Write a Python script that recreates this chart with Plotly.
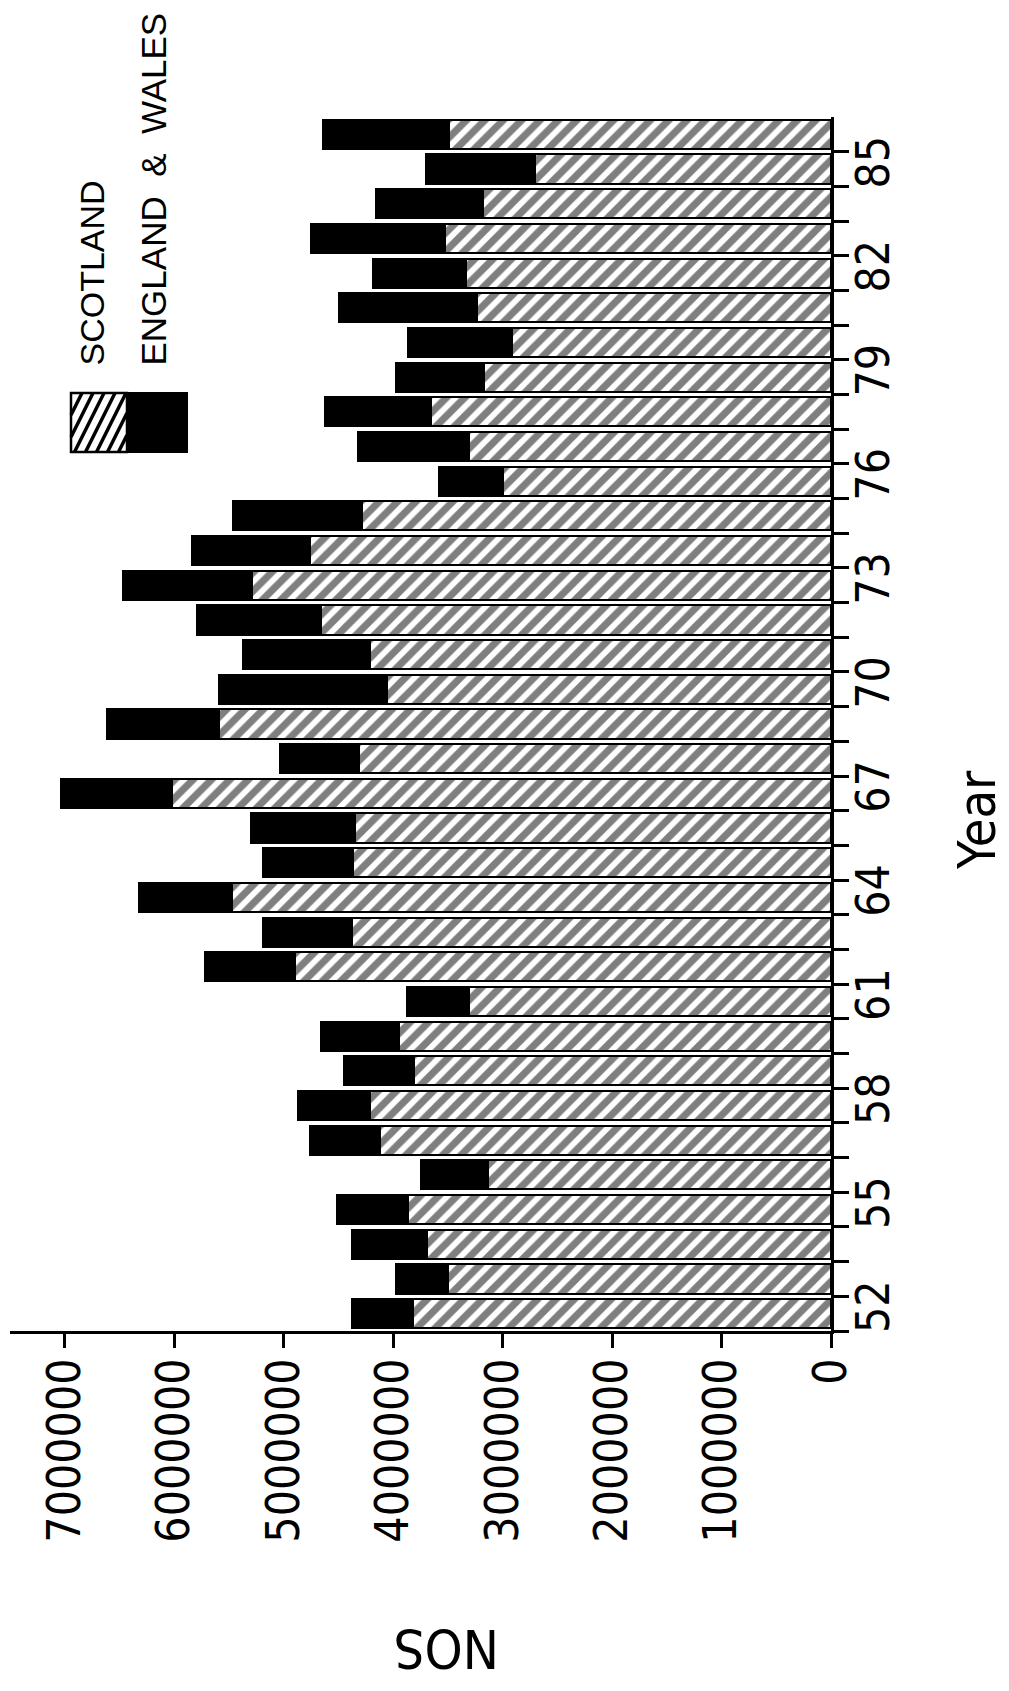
import plotly.graph_objects as go

# ---------------- data ----------------
years = list(range(52, 87))
scotland = [3820000, 3500000, 3690000, 3860000, 3130000, 4120000, 4210000, 3810000,
            3950000, 3310000, 4900000, 4380000, 5470000, 4370000, 4350000, 6020000,
            4310000, 5590000, 4060000, 4210000, 4660000, 5290000, 4760000, 4280000,
            3000000, 3310000, 3650000, 3170000, 2910000, 3230000, 3330000, 3530000,
            3180000, 2700000, 3490000]
england_wales = [560000, 470000, 690000, 650000, 620000, 640000, 660000, 640000,
                 710000, 560000, 820000, 810000, 850000, 820000, 950000, 1010000,
                 720000, 1020000, 1530000, 1160000, 1130000, 1180000, 1080000, 1180000,
                 580000, 1010000, 970000, 800000, 950000, 1260000, 850000, 1220000,
                 980000, 1000000, 1150000]
value_ticks = [0, 1000000, 2000000, 3000000, 4000000, 5000000, 6000000, 7000000]
year_ticks = [52, 55, 58, 61, 64, 67, 70, 73, 76, 79, 82, 85]
series_names = ["SCOTLAND", "ENGLAND & WALES"]

# ---------------- layout geometry (page pixels; page body has an 8px margin) ----------------
OFF = 8
W, H = 1009 - OFF, 1691 - OFF
PL, PR, PT, PB = 10 - OFF, 831 - OFF, 117 - OFF, 1331 - OFF

CONDENSED = "DejaVu Sans Condensed, Liberation Sans Narrow, DejaVu Sans, sans-serif"
REGULAR = "Liberation Sans, Arial, sans-serif"


def px(x):
    """page x -> paper x"""
    return (x - OFF - PL) / (PR - PL)


def py(y):
    """page y -> paper y"""
    return (PB - (y - OFF)) / (PB - PT)


fig = go.Figure()
fig.add_trace(go.Bar(
    y=years, x=scotland, orientation="h", name=series_names[0],
    marker=dict(color="white",
                pattern=dict(shape="/", fgcolor="black", bgcolor="white",
                             size=13, solidity=0.55),
                line=dict(color="black", width=2)),
))
fig.add_trace(go.Bar(
    y=years, x=england_wales, orientation="h", name=series_names[1],
    marker=dict(color="black", line=dict(color="black", width=2)),
))

boundaries = [y - 0.5 for y in years]

fig.update_layout(
    width=W, height=H,
    margin=dict(l=PL, r=W - PR, t=PT, b=H - PB, pad=0),
    paper_bgcolor="white", plot_bgcolor="white",
    barmode="stack", bargap=0.16, showlegend=False,
    xaxis=dict(
        range=[7.5e6, 0], showgrid=False, zeroline=False,
        showline=True, linecolor="black", linewidth=3,
        tickmode="array", tickvals=value_ticks,
        ticktext=[str(v) for v in value_ticks],
        ticks="outside", ticklen=14, tickwidth=2.5, tickcolor="black",
        ticklabelstandoff=-8,
        tickangle=-90, tickfont=dict(family=CONDENSED, size=46, color="black"),
    ),
    yaxis=dict(
        range=[years[0] - 0.5, years[-1] + 0.5], side="right",
        showgrid=False, zeroline=False,
        showline=True, linecolor="black", linewidth=3,
        tickmode="array", tickvals=year_ticks,
        ticktext=[str(v) for v in year_ticks], ticks="",
        tickangle=-90, tickfont=dict(family=CONDENSED, size=46, color="black"),
        minor=dict(tickmode="array", tickvals=boundaries, ticks="outside",
                   ticklen=15, tickwidth=2.5, tickcolor="black", showgrid=False),
    ),
)

# ---------------- legend (drawn by hand, rotated like the page) ----------------
shapes = []
hx0, hx1, bx1, ly0, ly1 = 71, 127, 187, 393, 452
shapes.append(dict(type="rect", xref="paper", yref="paper",
                   x0=px(hx1), x1=px(bx1), y0=py(ly1), y1=py(ly0),
                   fillcolor="black", line=dict(color="black", width=2)))
shapes.append(dict(type="rect", xref="paper", yref="paper",
                   x0=px(hx0), x1=px(hx1), y0=py(ly1), y1=py(ly0),
                   fillcolor="white", line=dict(color="black", width=2.5)))
k = 0.5
hgt = ly1 - ly0
c = hx0 - hgt * k
while c < hx1:
    tmin = max(0.0, (hx0 - c) / (hgt * k))
    tmax = min(1.0, (hx1 - c) / (hgt * k))
    if tmin < tmax:
        xa, ya = c + tmin * hgt * k, ly1 - tmin * hgt
        xb, yb = c + tmax * hgt * k, ly1 - tmax * hgt
        shapes.append(dict(type="line", xref="paper", yref="paper",
                           x0=px(xa), y0=py(ya), x1=px(xb), y1=py(yb),
                           line=dict(color="black", width=3.5)))
    c += 11
fig.update_layout(shapes=shapes)

annos = [
    dict(text=series_names[0], x=px(91), y=py(368), xanchor="center", yanchor="bottom",
         textangle=-90, font=dict(family=REGULAR, size=34, color="black")),
    dict(text="ENGLAND \u00a0&\u00a0 WALES", x=px(153), y=py(368), xanchor="center",
         yanchor="bottom", textangle=-90,
         font=dict(family=REGULAR, size=35, color="black")),
    dict(text="Year", x=px(977), y=py(820), xanchor="center", yanchor="middle",
         textangle=-90, font=dict(family=CONDENSED, size=52, color="black")),
    dict(text="NOS", x=px(447), y=py(1648), xanchor="center", yanchor="middle",
         textangle=180, font=dict(family=CONDENSED, size=54, color="black")),
]
for a in annos:
    a.update(xref="paper", yref="paper", showarrow=False)
fig.update_layout(annotations=annos)

fig.write_html("out.html")
